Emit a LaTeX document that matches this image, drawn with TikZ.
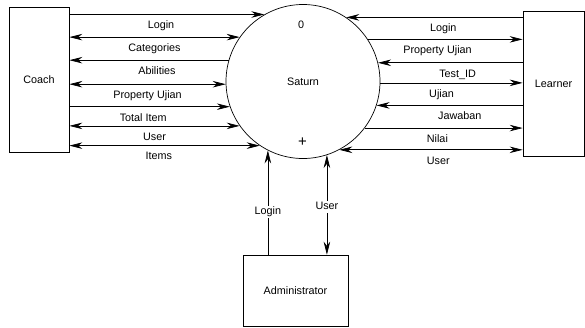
\documentclass[tikz,border=0pt]{standalone}
\usepackage{fontspec}
\setmainfont{Liberation Sans}
\usetikzlibrary{arrows.meta, positioning}

\tikzset{
    entity/.style = {draw, line width=0.7pt, inner sep=0pt},
    process/.style = {draw, circle, line width=0.7pt, inner sep=0pt, minimum size=154bp},
    lbl/.style = {below=5bp, inner sep=1bp, text height=8bp, text depth=2.5bp},
    vlbl/.style = {fill=white, inner sep=1bp, text height=8bp, text depth=2.5bp},
    > = {Stealth[length=13bp, width=6.5bp]}
}

\begin{document}
\begin{tikzpicture} [x=1bp, y=-1bp, font=\fontsize{10.8bp}{13bp}\selectfont]
        \useasboundingbox (0,0) rectangle (585,327);

        \node (coach) [entity, minimum width=60bp, minimum height=145bp] at (39,79.5) {Coach};
        \node (saturn) [process] at (303,81.5) {Saturn};
        \node (learner) [entity, minimum width=61bp, minimum height=145bp] at (553.5,83.5) {Learner};
        \node (admin) [entity, minimum width=105bp, minimum height=71bp] at (295.5,290.5) {Administrator};

        \node (zero) at (301,24.5) {0};
        \node (plus) [font=\fontsize{15bp}{16bp}\selectfont] at (302.5,142.5) {+};

        % Coach <-> Saturn
        \path [line width=0.7pt]
        (coach.east |- saturn.120.3) edge [->] node [lbl, pos=.47] {Login} (saturn.120.3)
        (coach.east |- saturn.145.3) edge [<->] node [lbl, pos=.50] {Categories} (saturn.145.3)
        (coach.east |- saturn.164.6) edge [<-] node [lbl, pos=.55] {Abilities} (saturn.164.6)
        (coach.east |- saturn.182.1) edge [<->] node [lbl, pos=.50] {Property Ujian} (saturn.182.1)
        (coach.east |- saturn.199.1) edge [->] node [lbl, pos=.46] {Total Item} (saturn.199.1)
        (coach.east |- saturn.215.3) edge [<->] node [lbl, pos=.50] {User} (saturn.215.3)
        (coach.east |- saturn.236.9) edge [<->] node [lbl, pos=.47] {Items} (saturn.236.9)
        ;

        % Saturn <-> Learner
        \path [line width=0.7pt]
        (saturn.56.9) edge [<-] node [lbl, pos=.55] {Login} (learner.west |- saturn.56.9)
        (saturn.33.5) edge [->] node [lbl, pos=.45] {Property Ujian} (learner.west |- saturn.33.5)
        (saturn.14.7) edge [<-] node [lbl, pos=.55] {Test\_ID} (learner.west |- saturn.14.7)
        (saturn.-1.1) edge [->] node [lbl, pos=.43] {Ujian} (learner.west |- saturn.-1.1)
        (saturn.-18.6) edge [<-] node [lbl, pos=.57] {Jawaban} (learner.west |- saturn.-18.6)
        (saturn.-37.1) edge [->] node [lbl, pos=.46] {Nilai} (learner.west |- saturn.-37.1)
        (saturn.-62.8) edge [<->] node [lbl, pos=.54] {User} (learner.west |- saturn.-62.8)
        ;

        % Administrator <-> Saturn
        \path [line width=0.7pt]
        (admin.north -| saturn.243.8) edge [->] node [vlbl, pos=.41] {Login} (saturn.243.8)
        (admin.north -| saturn.288.2) edge [<->] node [vlbl, pos=.48] {User} (saturn.288.2)
        ;
    \end{tikzpicture}
\end{document}
